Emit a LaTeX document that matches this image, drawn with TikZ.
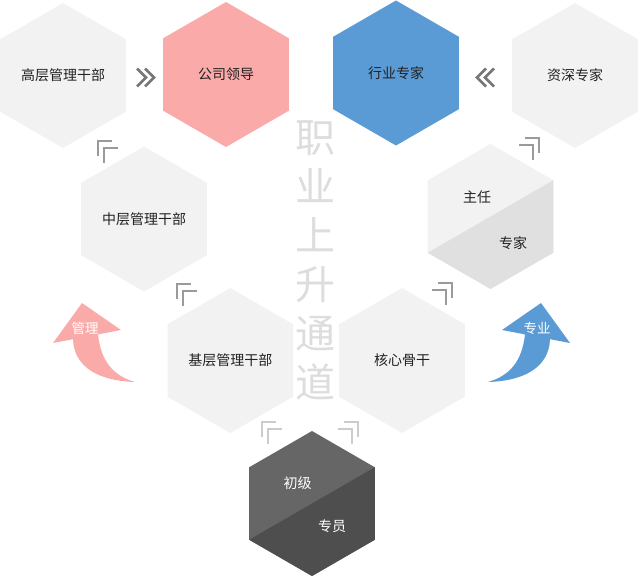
\documentclass[tikz,border=0pt]{standalone}
\usepackage{fontspec}
\setmainfont{Noto Sans CJK SC}
\usetikzlibrary{shapes.geometric,calc}
\definecolor{hexlight}{HTML}{F2F2F2}
\definecolor{hexlow}{HTML}{E0E0E0}
\definecolor{hexpink}{HTML}{FBAAAA}
\definecolor{hexblue}{HTML}{5B9BD5}
\definecolor{darktop}{HTML}{666666}
\definecolor{darklow}{HTML}{4E4E4E}
\definecolor{marka}{HTML}{9A9A9A}
\definecolor{markb}{HTML}{CCCCCC}
\definecolor{chev}{HTML}{777777}
\definecolor{bigtxt}{HTML}{DDDDDD}
\definecolor{labtxt}{HTML}{222222}
\newcommand\cornerL[3]{% x y colour
  \draw[markline,#3] (#1,#2+15) -- (#1,#2) -- (#1+14,#2);
  \draw[markline,#3] (#1+6,#2+22) -- (#1+6,#2+7) -- (#1+20,#2+7);}
\newcommand\cornerR[3]{%
  \draw[markline,#3] (#1-14,#2) -- (#1,#2) -- (#1,#2+15);
  \draw[markline,#3] (#1-20,#2+7) -- (#1-6,#2+7) -- (#1-6,#2+22);}
\begin{document}
\begin{tikzpicture}[x=1bp,y=-1bp,
  hexagon/.style={regular polygon, regular polygon sides=6, shape border rotate=30,
    minimum size=145bp, inner sep=0pt, outer sep=0pt, draw=none},
  lab/.style={font=\fontsize{14bp}{16bp}\selectfont, text=labtxt},
  wlab/.style={font=\fontsize{14bp}{16bp}\selectfont, text=white, inner sep=0pt},
  alab/.style={font=\fontsize{13.5bp}{15bp}\selectfont, text=white, inner sep=0pt},
  markline/.style={line width=2.5bp},
  chevline/.style={line width=2.6bp, chev},
]
\useasboundingbox (0,0) rectangle (638,577);

% hexagons
\node[hexagon, fill=hexlight, lab] (gaoceng) at (63,75.5) {高层管理干部};
\node[hexagon, fill=hexpink, lab] (lingdao) at (226,74.5) {公司领导};
\node[hexagon, fill=hexblue, lab] (hangye) at (396,73) {行业专家};
\node[hexagon, fill=hexlight, lab] (zishen) at (575,75.5) {资深专家};
\node[hexagon, fill=hexlight, lab] (zhongceng) at (144,219) {中层管理干部};
\node[hexagon, fill=hexlight] (zhuren) at (490.5,216.5) {};
\fill[hexlow] ($(zhuren.center)+(-62.79,36.25)$) -- ++(62.79,36.25) -- ++(62.79,-36.25) -- ++(0,-72.5) -- cycle;
\node[hexagon, fill=hexlight, lab] (jiceng) at (230.3,360.5) {基层管理干部};
\node[hexagon, fill=hexlight, lab] (hexin) at (402,360.5) {核心骨干};
\node[hexagon, fill=darktop] (chuji) at (312,503.5) {};
\fill[darklow] ($(chuji.center)+(-62.79,36.25)$) -- ++(62.79,36.25) -- ++(62.79,-36.25) -- ++(0,-72.5) -- cycle;

% split labels
\node[lab, inner sep=0pt] (zhurenT) at (477,197) {主任};
\node[lab, inner sep=0pt] (zhuanjiaT) at (513,243) {专家};
\node[wlab] (chujiT) at (297.5,483) {初级};
\node[wlab] (zhuanyuanT) at (332,526.5) {专员};

% central vertical title
\node[font=\fontsize{40bp}{49bp}\selectfont, text=bigtxt, align=center, inner sep=0pt]
  (title) at (315,260) {职\\业\\上\\升\\通\\道};

% chevrons
\draw[chevline] (137,68.5) -- (146,77.5) -- (137,86.5);
\draw[chevline] (145,68.5) -- (154,77.5) -- (145,86.5);
\draw[chevline] (486,68.5) -- (477,77.5) -- (486,86.5);
\draw[chevline] (494,68.5) -- (485,77.5) -- (494,86.5);

% corner marks
\cornerL{98}{141}{marka}
\cornerL{177}{284}{marka}
\cornerL{262}{422}{markb}
\cornerR{539}{138}{marka}
\cornerR{452}{283}{marka}
\cornerR{358}{422}{markb}

% curved arrows
\fill[hexpink] (82,303) -- (121,330) -- (98,334.4) .. controls (101,362) and (114,376) .. (135,382)
  .. controls (100,381) and (74,368) .. (73,339.2) -- (53,343) -- cycle;
\node[alab] (guanli) at (85,328) {管理};
\fill[hexblue] (541,303) -- (502,330) -- (525,334.4) .. controls (522,362) and (509,376) .. (488,382)
  .. controls (523,381) and (549,368) .. (550,339.2) -- (570,343) -- cycle;
\node[alab] (zhuanye) at (537,328) {专业};
\end{tikzpicture}
\end{document}
